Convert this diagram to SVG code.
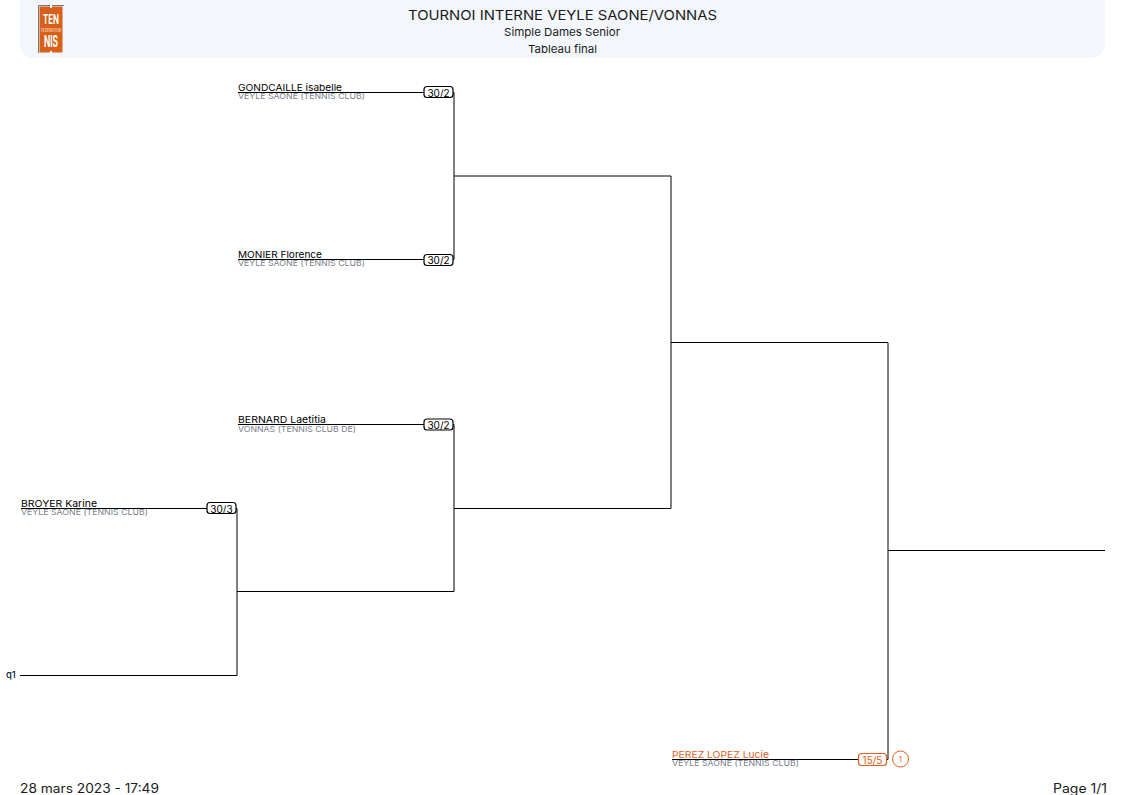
<svg xmlns="http://www.w3.org/2000/svg" width="1124" height="795" viewBox="0 0 1124 795">
<style>
text{font-family:Inter,"Liberation Sans",sans-serif;fill:#1a1a1a}
.c{text-anchor:middle}
.n{font-size:9.5px;fill:#000}
.o{font-size:8.2px;fill:#7a808a}
.l{fill:none;stroke:#000;stroke-width:1}
.b{fill:#fff;stroke:#000;stroke-width:1.200}
.s{font-size:10px;text-anchor:middle;fill:#000}
.r{stroke:#e2601c}
.rt{fill:#e2601c}
.w{fill:#fff;font-weight:700;text-anchor:middle}
</style>
<g id="header">
<rect x="20" y="-12" width="1085" height="70" rx="14" fill="#f3f6fa"/>
<text class="c" x="562.500" y="20" font-size="13.400" textLength="309" lengthAdjust="spacingAndGlyphs">TOURNOI INTERNE VEYLE SAONE/VONNAS</text>
<text class="c" x="562" y="36" font-size="11" textLength="116" lengthAdjust="spacingAndGlyphs">Simple Dames Senior</text>
<text class="c" x="562.500" y="53" font-size="11" textLength="69" lengthAdjust="spacingAndGlyphs">Tableau final</text>
</g>
<g id="logo">
<path d="M38.500 53V5.500H64" fill="none" stroke="#777"/>
<rect x="39.500" y="6.500" width="23" height="46" fill="#d9601a"/>
<rect x="50" y="5" width="2" height="3" fill="#fff"/><rect x="50" y="51" width="2" height="2" fill="#fff"/>
<text class="w" x="51" y="24" font-size="13" textLength="16" lengthAdjust="spacingAndGlyphs">TEN</text>
<text class="c" x="51" y="31.500" font-size="4.500" font-weight="700" textLength="20" lengthAdjust="spacingAndGlyphs" style="fill:#f0c6a8">FEDERATION</text>
<text class="w" x="51" y="47" font-size="16" textLength="14" lengthAdjust="spacingAndGlyphs">NIS</text>
</g>
<g id="connectors">
<path class="l" d="M238 92.500H454V259.500H238M454 176H671M238 424.500H454V591.500H237M21 508.500H237V675.500H20M454 508.500H671V176M671 342.500H888V759.500H672M888 550.500H1105"/>
</g>
<g id="player-gondcaille">
<text class="n" x="238" y="91" textLength="104" lengthAdjust="spacingAndGlyphs">GONDCAILLE isabelle</text>
<text class="o" x="238" y="99" textLength="127" lengthAdjust="spacingAndGlyphs">VEYLE SAONE (TENNIS CLUB)</text>
<rect class="b" x="424" y="86.500" width="29" height="11" rx="3"/><text class="s" x="438.500" y="96.500">30/2</text>
</g>
<g id="player-monier">
<text class="n" x="238" y="258" textLength="84" lengthAdjust="spacingAndGlyphs">MONIER Florence</text>
<text class="o" x="238" y="266" textLength="127" lengthAdjust="spacingAndGlyphs">VEYLE SAONE (TENNIS CLUB)</text>
<rect class="b" x="424" y="254.500" width="29" height="11" rx="3"/><text class="s" x="438.500" y="264">30/2</text>
</g>
<g id="player-bernard">
<text class="n" x="238" y="423" textLength="88" lengthAdjust="spacingAndGlyphs">BERNARD Laetitia</text>
<text class="o" x="238" y="432" textLength="118" lengthAdjust="spacingAndGlyphs">VONNAS (TENNIS CLUB DE)</text>
<rect class="b" x="424" y="419" width="29" height="11" rx="3"/><text class="s" x="438.500" y="428.500">30/2</text>
</g>
<g id="player-broyer">
<text class="n" x="21" y="507" textLength="76" lengthAdjust="spacingAndGlyphs">BROYER Karine</text>
<text class="o" x="21" y="515" textLength="127" lengthAdjust="spacingAndGlyphs">VEYLE SAONE (TENNIS CLUB)</text>
<rect class="b" x="207" y="502.500" width="29" height="11" rx="3"/><text class="s" x="221.500" y="512.500">30/3</text>
</g>
<g id="qualifier"><text x="6" y="678" font-size="9.500" font-weight="500" style="fill:#10203a">q1</text></g>
<g id="player-perez">
<text class="n rt" x="672" y="758" textLength="97" lengthAdjust="spacingAndGlyphs">PEREZ LOPEZ Lucie</text>
<text class="o" x="672" y="766" textLength="127" lengthAdjust="spacingAndGlyphs">VEYLE SAONE (TENNIS CLUB)</text>
<rect class="b r" x="858.500" y="753.500" width="28" height="12" rx="3"/><text class="s rt" x="872.500" y="763.500">15/5</text>
<circle cx="900.500" cy="759" r="8" fill="#fff" stroke="#e2601c"/><text class="c rt" x="900.500" y="762" font-size="8">1</text>
</g>
<g id="footer">
<text x="20" y="793" font-size="12.500" textLength="139" lengthAdjust="spacingAndGlyphs">28 mars 2023 - 17:49</text>
<text x="1053" y="793" font-size="12.500" textLength="54" lengthAdjust="spacingAndGlyphs">Page 1/1</text>
</g>
</svg>
